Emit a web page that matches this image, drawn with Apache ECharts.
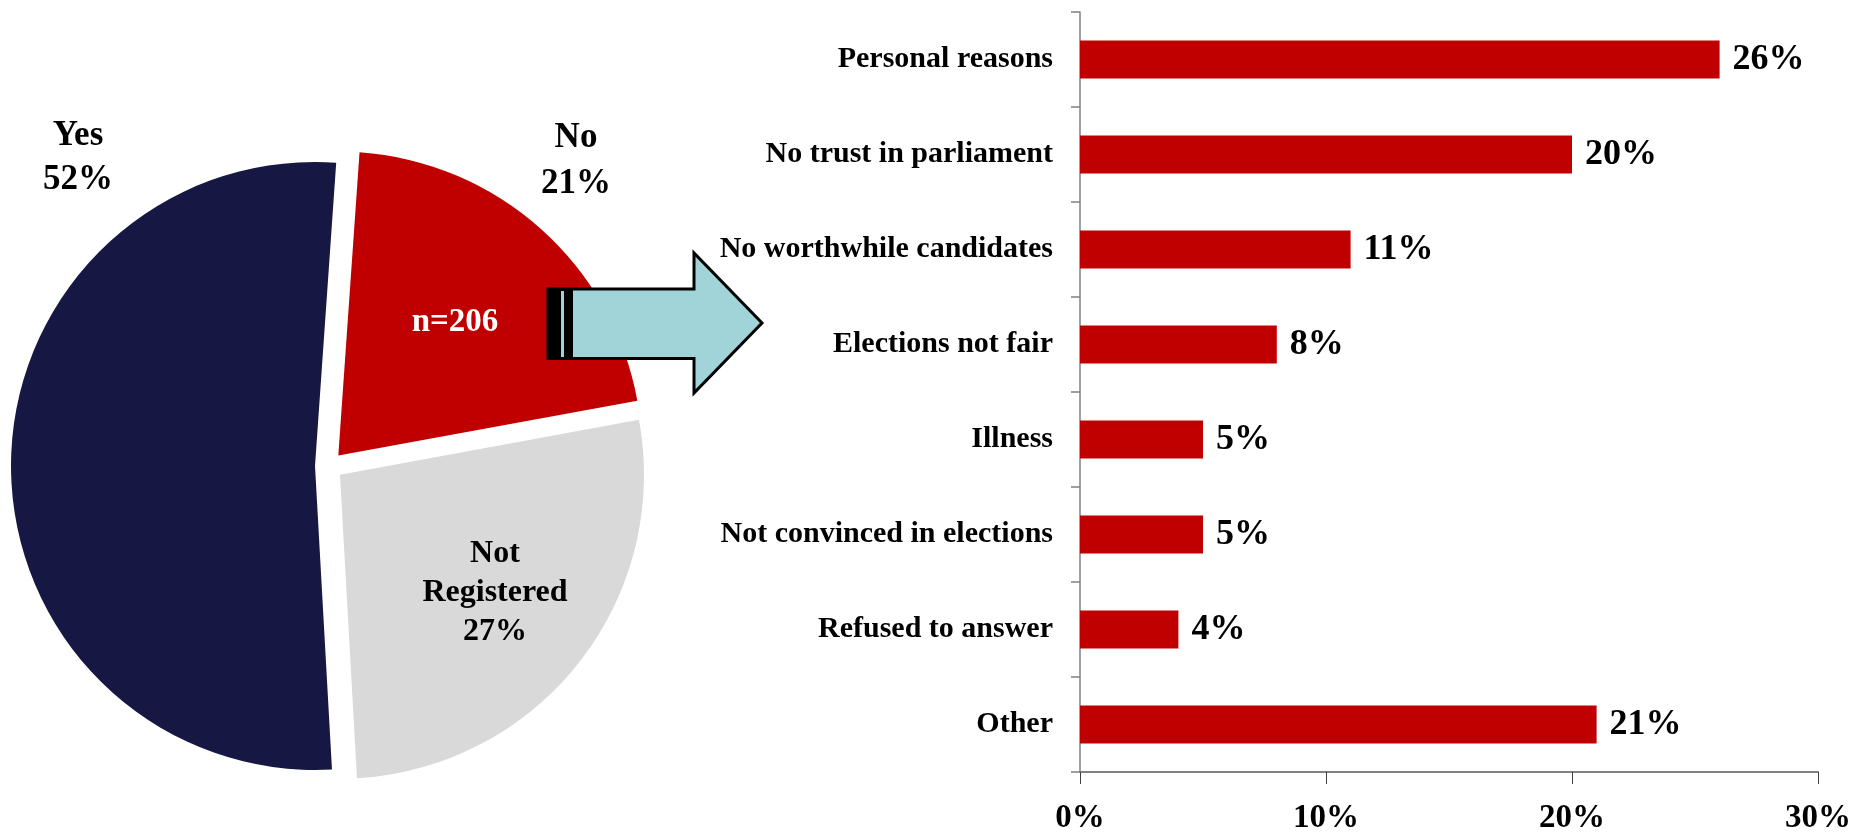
<!DOCTYPE html>
<html>
<head>
<meta charset="utf-8">
<script src="https://cdn.jsdelivr.net/npm/echarts@6/dist/echarts.min.js"></script>
<style>
html,body{margin:0;padding:0;background:#fff;}
#chart{width:1860px;height:835px;}
</style>
</head>
<body>
<div id="chart"></div>
<script>
// Pie data (clockwise from just right of 12 o'clock)
const pieNames = ['No', 'Not\nRegistered', 'Yes'];
const pieValues = [21, 27, 52];
const pieColors = ['#C00000', '#D9D9D9', '#171743'];
const pieNote = 'n=206';

// Bar data
const barCategories = ['Personal reasons', 'No trust in parliament', 'No worthwhile candidates',
  'Elections not fair', 'Illness', 'Not convinced in elections', 'Refused to answer', 'Other'];
const barValues = [26, 20, 11, 8, 5, 5, 4, 21];
const xTicks = [0, 10, 20, 30];

const FONT = 'Liberation Serif';
const chart = echarts.init(document.getElementById('chart'), null, {renderer: 'canvas'});

const pieLabelPos = [
  {x: 576, y: 161, size: 35, lh: 46},  // No
  {x: 495, y: 593, size: 32, lh: 39},  // Not Registered
  {x: 78, y: 158, size: 35, lh: 44}    // Yes
];

const graphics = [];
pieNames.forEach((n, i) => {
  const p = pieLabelPos[i];
  graphics.push({
    type: 'text', x: p.x, y: p.y, z: 100,
    style: {
      text: n + '\n' + pieValues[i] + '%',
      font: 'bold ' + p.size + 'px "' + FONT + '"',
      fill: '#000', align: 'center', verticalAlign: 'middle', lineHeight: p.lh
    }
  });
});
graphics.push({
  type: 'text', x: 455, y: 322, z: 100,
  style: {text: pieNote, font: 'bold 33px "' + FONT + '"', fill: '#fff', align: 'center', verticalAlign: 'middle'}
});
// Arrow
graphics.push({
  type: 'polygon', z: 50,
  shape: {points: [[548, 289], [694, 289], [694, 253], [762, 323], [694, 393], [694, 358.5], [548, 358.5]]},
  style: {fill: '#A0D4D8', stroke: '#000', lineWidth: 3, lineJoin: 'miter'}
});
graphics.push({type: 'rect', z: 51, shape: {x: 547, y: 288, width: 26, height: 72}, style: {fill: '#000'}});
graphics.push({type: 'rect', z: 52, shape: {x: 561, y: 291, width: 3, height: 66}, style: {fill: '#A0D4D8'}});

const option = {
  backgroundColor: '#fff',
  animation: false,
  graphic: graphics,
  grid: {left: 1080, right: 42, top: 12, bottom: 62, containLabel: false},
  xAxis: {
    type: 'value', min: xTicks[0], max: xTicks[xTicks.length - 1], interval: xTicks[1] - xTicks[0],
    axisLine: {show: true, lineStyle: {color: '#808080', width: 2}},
    axisTick: {show: true, length: 12, lineStyle: {color: '#404040', width: 1}},
    splitLine: {show: false},
    axisLabel: {
      formatter: v => v + '%', margin: 30,
      fontFamily: FONT, fontWeight: 'bold', fontSize: 33, color: '#000'
    }
  },
  yAxis: {
    type: 'category', data: barCategories, inverse: true,
    axisLine: {show: true, lineStyle: {color: '#808080', width: 1.5}},
    axisTick: {show: true, length: 9, lineStyle: {color: '#808080', width: 1.5}},
    axisLabel: {margin: 27, fontFamily: FONT, fontWeight: 'bold', fontSize: 30, color: '#000'}
  },
  series: [
    {
      type: 'pie',
      center: [329, 466],
      radius: 304,
      startAngle: 86,
      clockwise: true,
      selectedMode: 'multiple',
      selectedOffset: 14,
      label: {show: false},
      labelLine: {show: false},
      emphasis: {disabled: true},
      itemStyle: {borderWidth: 0},
      data: pieNames.map((n, i) => ({name: n, value: pieValues[i], selected: true, itemStyle: {color: pieColors[i]}}))
    },
    {
      type: 'bar',
      data: barValues,
      barWidth: 38,
      itemStyle: {color: '#C00000'},
      label: {
        show: true, position: 'right', distance: 13, formatter: p => p.value + '%',
        fontFamily: FONT, fontWeight: 'bold', fontSize: 36, color: '#000'
      },
      emphasis: {disabled: true}
    }
  ]
};
chart.setOption(option);
</script>
</body>
</html>
